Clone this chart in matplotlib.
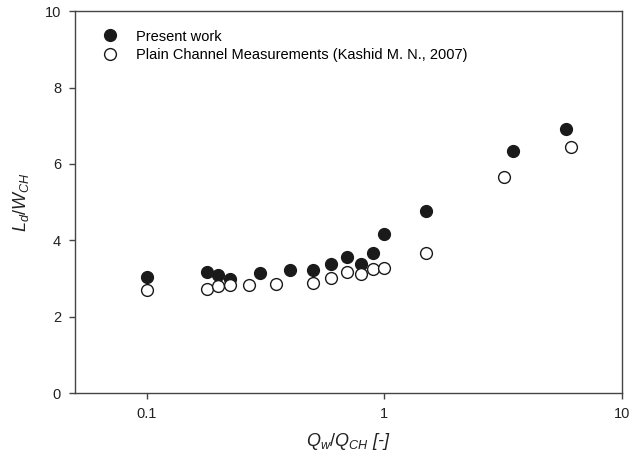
import matplotlib
matplotlib.use("Agg")
import matplotlib.pyplot as plt
from matplotlib.ticker import FixedLocator, NullLocator

plt.rcParams['font.family'] = ['Liberation Sans', 'DejaVu Sans']
plt.rcParams['mathtext.fontset'] = 'custom'
plt.rcParams['mathtext.rm'] = 'Liberation Sans'
plt.rcParams['mathtext.it'] = 'Liberation Sans:italic'

# Present work
present_x = [0.1, 0.18, 0.2, 0.224, 0.3, 0.4, 0.5, 0.6, 0.7, 0.8, 0.9, 1.0, 1.5, 3.5, 5.8]
present_y = [3.03, 3.17, 3.08, 2.98, 3.15, 3.21, 3.23, 3.37, 3.57, 3.39, 3.66, 4.16, 4.77, 6.35, 6.92]

# Plain channel measurements (Kashid M. N., 2007)
plain_x = [0.1, 0.18, 0.2, 0.224, 0.27, 0.35, 0.5, 0.6, 0.7, 0.8, 0.9, 1.0, 1.5, 3.2, 6.1]
plain_y = [2.70, 2.73, 2.80, 2.82, 2.84, 2.85, 2.89, 3.01, 3.17, 3.12, 3.26, 3.28, 3.66, 5.65, 6.45]

fig = plt.figure(figsize=(6.3, 4.63), dpi=100)
ax = fig.add_axes([0.119, 0.151, 0.868, 0.825])

ax.plot(present_x, present_y, 'o', color='#1a1a1a', markersize=8.5,
        label='Present work')
ax.plot(plain_x, plain_y, 'o', markerfacecolor='white', markeredgecolor='#1a1a1a',
        markeredgewidth=1.0, markersize=8.5,
        label='Plain Channel Measurements (Kashid M. N., 2007)')

ax.set_xscale('log')
ax.set_xlim(0.05, 10)
ax.set_ylim(0, 10)
ax.xaxis.set_major_locator(FixedLocator([0.1, 1, 10]))
ax.xaxis.set_minor_locator(NullLocator())
ax.set_xticklabels(['0.1', '1', '10'])
ax.set_yticks([0, 2, 4, 6, 8, 10])

for side in ['top', 'right', 'left', 'bottom']:
    ax.spines[side].set_color('#444444')
    ax.spines[side].set_linewidth(1.0)
ax.tick_params(direction='out', length=4, width=1.0, color='#444444',
               labelsize=10.5, labelcolor='#222222', top=False, right=False)
ax.tick_params(axis='x', pad=6)
ax.tick_params(axis='y', pad=6)

ax.set_xlabel(r'$Q_w/Q_{CH}$ [-]', fontsize=13, labelpad=7, color='#222222',
              style='italic')
ax.set_ylabel(r'$L_d/W_{CH}$', fontsize=13, labelpad=10, color='#222222')

ax.legend(loc='upper left', frameon=False, fontsize=10.5, handletextpad=0.8,
          borderaxespad=0.6, labelspacing=0.3, bbox_to_anchor=(0.01, 0.99))

fig.savefig('out.png', dpi=100)
